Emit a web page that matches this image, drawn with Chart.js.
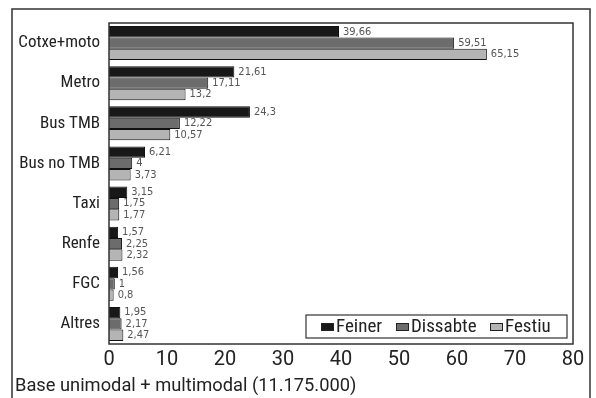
<!DOCTYPE html>
<html>
<head>
<meta charset="utf-8">
<script src="https://cdn.jsdelivr.net/npm/chart.js@4.4.1/dist/chart.umd.min.js"></script>
<style>
  html, body { margin: 0; padding: 0; background: #fff; }
  canvas { display: block; }
</style>
</head>
<body>
<canvas id="modeChart" width="596" height="398"></canvas>
<script>
// Data
const categories = ['Cotxe+moto', 'Metro', 'Bus TMB', 'Bus no TMB', 'Taxi', 'Renfe', 'FGC', 'Altres'];
const feiner   = [39.66, 21.61, 24.3, 6.21, 3.15, 1.57, 1.56, 1.95];
const dissabte = [59.51, 17.11, 12.22, 4, 1.75, 2.25, 1, 2.17];
const festiu   = [65.15, 13.2, 10.57, 3.73, 1.77, 2.32, 0.8, 2.47];
const xTicks = [0, 10, 20, 30, 40, 50, 60, 70, 80];
const footText = 'Base unimodal + multimodal (11.175.000)';

const FONT = 'Roboto, sans-serif';

// narrow lettering everywhere (Roboto has a width axis)
const narrowText = {
    id: 'narrowText',
    beforeInit(chart) { chart.ctx.fontStretch = 'condensed'; },
    beforeDraw(chart) { chart.ctx.fontStretch = 'condensed'; }
};

// frame, value labels, plot box, legend and footnote
const decorations = {
    id: 'decorations',
    beforeDraw(chart) {
        const c = chart.ctx;
        c.save();
        c.fillStyle = '#fff';
        c.fillRect(0, 0, chart.width, chart.height);
        c.strokeStyle = '#333';
        c.lineWidth = 1.5;
        c.strokeRect(12, 9, 578, 400);
        c.restore();
    },
    afterDatasetsDraw(chart) {
        const c = chart.ctx;
        const area = chart.chartArea;
        c.save();

        // value labels
        c.font = "11px 'DejaVu Sans Condensed', sans-serif";
        c.fontStretch = 'normal';
        c.fillStyle = '#555';
        c.textBaseline = 'middle';
        c.textAlign = 'left';
        chart.data.datasets.forEach((ds, i) => {
            chart.getDatasetMeta(i).data.forEach((bar, j) => {
                const txt = String(ds.data[j]).replace('.', ',');
                c.fillText(txt, bar.x + 4, bar.y);
            });
        });

        // plot box
        c.strokeStyle = '#333';
        c.lineWidth = 1.5;
        c.strokeRect(area.left, area.top, area.right - area.left, area.bottom - area.top);

        // legend inside plot, bottom right
        const lx = 306, ly = 315, lw = 261, lh = 23;
        c.fillStyle = '#fff';
        c.fillRect(lx, ly, lw, lh);
        c.lineWidth = 1.2;
        c.strokeRect(lx, ly, lw, lh);
        const itemX = [321, 396, 490];
        c.font = '19px ' + FONT;
        c.fontStretch = 'condensed';
        c.textBaseline = 'middle';
        chart.data.datasets.forEach((ds, i) => {
            const x = itemX[i];
            c.fillStyle = ds.backgroundColor;
            c.fillRect(x, ly + 8, 13, 8);
            c.strokeStyle = '#222';
            c.lineWidth = 1;
            c.strokeRect(x + 0.5, ly + 8.5, 12, 7);
            c.fillStyle = '#222';
            c.fillText(ds.label, x + 15, ly + lh / 2 + 1);
        });

        // footnote
        c.font = '18.3px ' + FONT;
        c.fontStretch = 'normal';
        c.fillStyle = '#222';
        c.textBaseline = 'alphabetic';
        c.fillText(footText, 15, 391);
        c.restore();
    }
};

const ctx = document.getElementById('modeChart').getContext('2d');
new Chart(ctx, {
    type: 'bar',
    data: {
        labels: categories,
        datasets: [
            { label: 'Feiner',   data: feiner,   backgroundColor: '#181818' },
            { label: 'Dissabte', data: dissabte, backgroundColor: '#6c6c6c' },
            { label: 'Festiu',   data: festiu,   backgroundColor: '#b4b4b4' }
        ]
    },
    options: {
        indexAxis: 'y',
        responsive: false,
        animation: false,
        devicePixelRatio: 1,
        layout: { padding: { left: 12, top: 23, right: 23, bottom: 0 } },
        datasets: {
            bar: {
                borderColor: '#111',
                borderWidth: 1,
                categoryPercentage: 0.85,
                barPercentage: 1
            }
        },
        plugins: {
            legend: { display: false },
            tooltip: { enabled: false }
        },
        scales: {
            x: {
                min: 0,
                max: 80,
                afterBuildTicks: scale => { scale.ticks = xTicks.map(v => ({ value: v })); },
                afterFit: scale => { scale.height = 54; },
                grid: { display: false, drawTicks: false },
                border: { display: false },
                ticks: {
                    color: '#222',
                    padding: 4,
                    font: { family: FONT, size: 20 }
                }
            },
            y: {
                afterFit: scale => { scale.width = 97; },
                grid: { display: false, drawTicks: false },
                border: { display: false },
                ticks: {
                    color: '#222',
                    padding: 9,
                    font: { family: FONT, size: 17 }
                }
            }
        }
    },
    plugins: [narrowText, decorations]
});
</script>
</body>
</html>
